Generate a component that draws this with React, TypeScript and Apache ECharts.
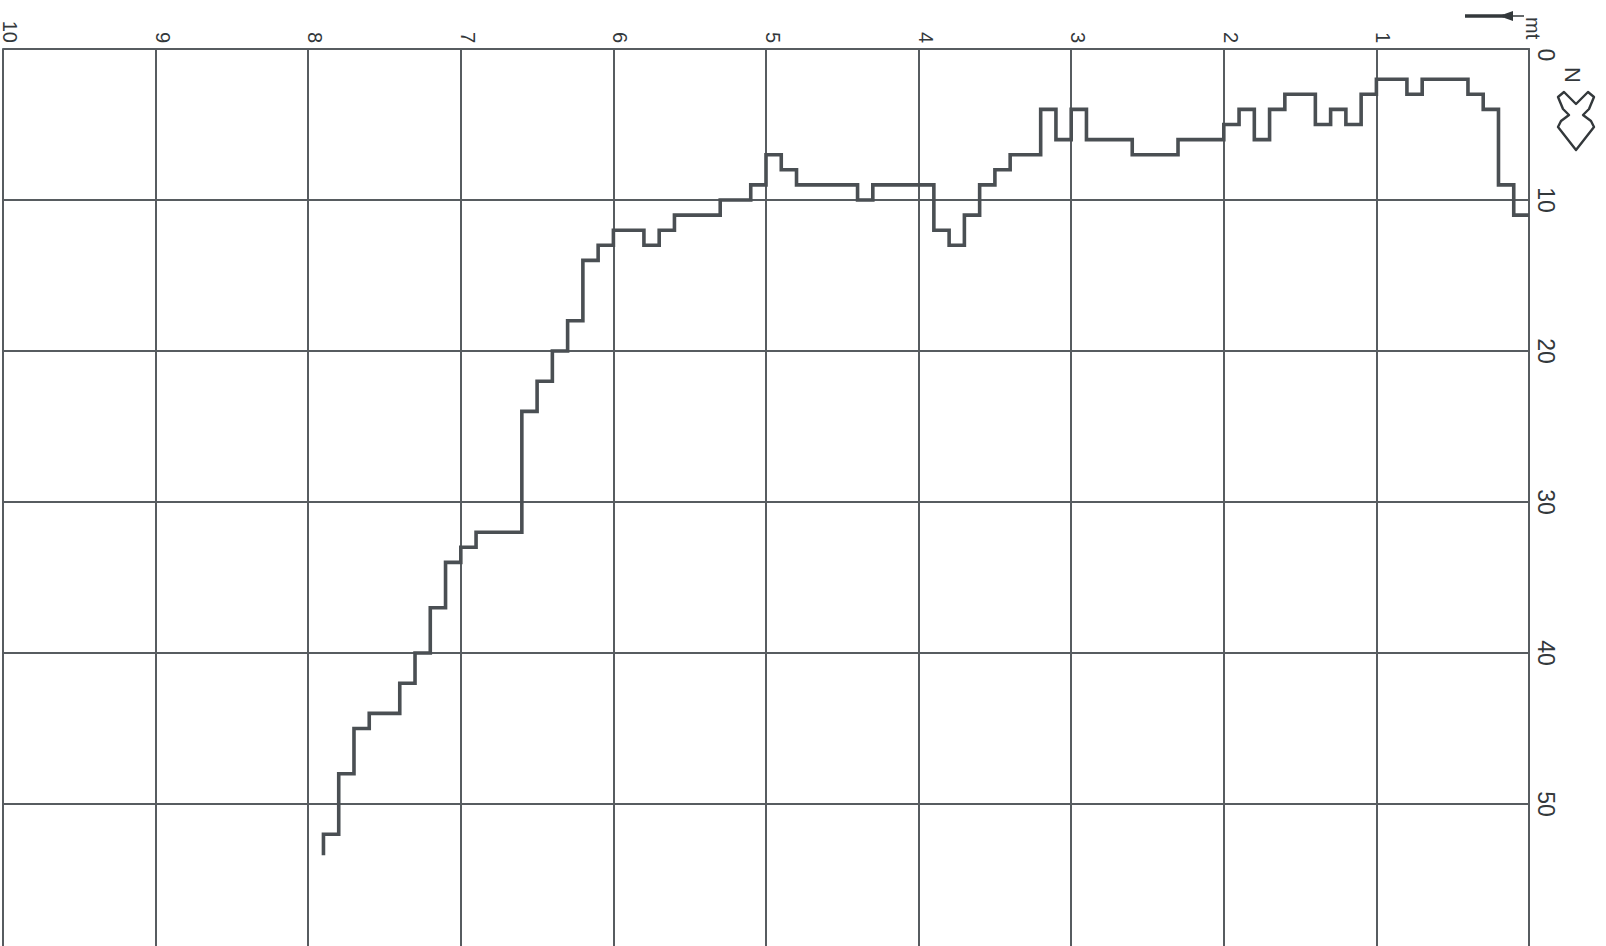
import React, { useEffect, useRef } from 'react';
import * as echarts from 'echarts';

// Depth (m) at the start of each 0.1 m reading interval; last entry is the end of the trace
const depthsM = [
  0, 0.1, 0.2, 0.3, 0.4, 0.5, 0.6, 0.7, 0.8, 0.9,
  1.0, 1.1, 1.2, 1.3, 1.4, 1.5, 1.6, 1.7, 1.8, 1.9,
  2.0, 2.1, 2.2, 2.3, 2.4, 2.5, 2.6, 2.7, 2.8, 2.9,
  3.0, 3.1, 3.2, 3.3, 3.4, 3.5, 3.6, 3.7, 3.8, 3.9,
  4.0, 4.1, 4.2, 4.3, 4.4, 4.5, 4.6, 4.7, 4.8, 4.9,
  5.0, 5.1, 5.2, 5.3, 5.4, 5.5, 5.6, 5.7, 5.8, 5.9,
  6.0, 6.1, 6.2, 6.3, 6.4, 6.5, 6.6, 6.7, 6.8, 6.9,
  7.0, 7.1, 7.2, 7.3, 7.4, 7.5, 7.6, 7.7, 7.8, 7.9,
];

// Blow count N for each interval
const blowsN = [
  11, 9, 4, 3, 2, 2, 2, 3, 2, 2,
  3, 5, 4, 5, 3, 3, 4, 6, 4, 5,
  6, 6, 6, 7, 7, 7, 6, 6, 6, 4,
  6, 4, 7, 7, 8, 9, 11, 13, 12, 9,
  9, 9, 9, 10, 9, 9, 9, 9, 8, 7,
  9, 10, 10, 11, 11, 11, 12, 13, 12, 12,
  13, 14, 18, 20, 22, 24, 32, 32, 32, 33,
  34, 37, 40, 42, 44, 44, 45, 48, 52, 53.4,
];

// Tick labels
const depthTicks = [1, 2, 3, 4, 5, 6, 7, 8, 9, 10];
const nTicks = [0, 10, 20, 30, 40, 50];

const depthAxisMax = 10;
const nAxisMax = 60;
const depthUnit = 'mt';
const nLabel = 'N';

const GRID = '#575c60';
const INK = '#33383b';
const TRACE = '#4a4f53';
const FONT = 'Liberation Sans, Arial, sans-serif';

export default function App() {
  const ref = useRef<HTMLDivElement>(null);

  useEffect(() => {
    const chart = echarts.init(ref.current as HTMLDivElement, null, { renderer: 'svg' });
    const axisLineStyle = { color: GRID, width: 2 };
    const option: any = {
      animation: false,
      backgroundColor: '#ffffff',
      grid: {
        left: 3,
        right: 77,
        top: 49,
        bottom: -9,
        containLabel: false,
        outerBoundsMode: 'none',
      },
      xAxis: {
        type: 'value',
        position: 'top',
        inverse: true,
        min: 0,
        max: depthAxisMax,
        interval: 1,
        axisLine: { show: true, onZero: false, lineStyle: axisLineStyle },
        axisTick: { show: false },
        splitLine: { show: true, lineStyle: axisLineStyle },
        axisLabel: { show: false },
      },
      yAxis: {
        type: 'value',
        position: 'right',
        inverse: true,
        min: 0,
        max: nAxisMax,
        interval: 10,
        axisLine: { show: true, onZero: false, lineStyle: axisLineStyle },
        axisTick: { show: false },
        splitLine: { show: true, lineStyle: axisLineStyle },
        axisLabel: { show: false },
      },
      series: [
        {
          type: 'line',
          step: 'end',
          data: depthsM.map((d, i) => [d, blowsN[i]]),
          showSymbol: false,
          symbol: 'none',
          lineStyle: { color: TRACE, width: 3.6, join: 'miter' },
          clip: true,
          silent: true,
        },
      ],
    };
    chart.setOption(option);

    const toPx = (d: number, n: number) =>
      chart.convertToPixel({ gridIndex: 0 }, [d, n]) as number[];

    const graphics: any[] = [];
    // depth tick labels along the top (rotated clockwise, reading downwards)
    depthTicks.forEach((d) => {
      const [x, y] = toPx(d, 0);
      graphics.push({
        type: 'text',
        x: Math.max(0, x - 3),
        y: y - 6,
        rotation: -Math.PI / 2,
        style: {
          text: String(d),
          font: `20px ${FONT}`,
          fill: INK,
          align: 'right',
          verticalAlign: 'bottom',
        },
      });
    });
    // N tick labels along the right
    nTicks.forEach((n) => {
      const [x, y] = toPx(0, n);
      graphics.push({
        type: 'text',
        x: x + 5,
        y: n === 0 ? y + 6 : y,
        rotation: -Math.PI / 2,
        style: {
          text: String(n),
          font: `23px ${FONT}`,
          fill: INK,
          align: 'center',
          verticalAlign: 'bottom',
        },
      });
    });

    graphics.push(
      {
        type: 'text',
        x: 1523,
        y: 17,
        rotation: -Math.PI / 2,
        style: {
          text: depthUnit,
          font: `20px ${FONT}`,
          fill: INK,
          align: 'left',
          verticalAlign: 'bottom',
        },
      },
      {
        type: 'text',
        x: 1561,
        y: 67,
        rotation: -Math.PI / 2,
        style: {
          text: nLabel,
          font: `22px ${FONT}`,
          fill: INK,
          align: 'left',
          verticalAlign: 'bottom',
        },
      },
      {
        type: 'line',
        shape: { x1: 1465, y1: 16, x2: 1504, y2: 16 },
        style: { stroke: INK, lineWidth: 3.5 },
      },
      {
        type: 'polygon',
        shape: { points: [[1499, 16], [1513, 11], [1513, 21]] },
        style: { fill: INK },
      },
      {
        type: 'line',
        shape: { x1: 1512, y1: 16, x2: 1524, y2: 16 },
        style: { stroke: INK, lineWidth: 1.5 },
      },
      {
        type: 'polygon',
        shape: {
          points: [
            [1558, 97], [1564, 92], [1576, 104], [1588, 92], [1594, 97],
            [1589, 109], [1583, 115], [1591, 121], [1594, 127],
            [1576, 150], [1558, 127], [1561, 121], [1569, 115], [1563, 109],
          ],
        },
        style: { fill: 'none', stroke: INK, lineWidth: 2.4, lineJoin: 'round' },
      }
    );

    chart.setOption({ graphic: graphics });
    return () => {
      chart.dispose();
    };
  }, []);

  return (
    <div
      ref={ref}
      style={{ position: 'absolute', left: 0, top: 0, width: 1606, height: 946, background: '#ffffff' }}
    />
  );
}
